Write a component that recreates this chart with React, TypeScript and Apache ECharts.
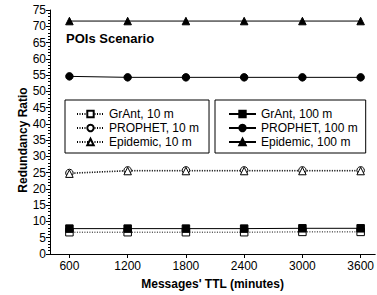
import React, { useEffect, useRef } from "react";
import * as echarts from "echarts";

const ttl = [600, 1200, 1800, 2400, 3000, 3600];
const grant10 = [6.7, 6.7, 6.7, 6.7, 6.8, 6.8];
const prophet10 = [24.9, 25.7, 25.7, 25.7, 25.7, 25.7];
const epidemic10 = [24.7, 25.5, 25.5, 25.5, 25.5, 25.5];
const grant100 = [7.8, 7.8, 7.8, 7.8, 7.9, 7.9];
const prophet100 = [54.6, 54.3, 54.3, 54.3, 54.3, 54.3];
const epidemic100 = [71.6, 71.6, 71.6, 71.6, 71.6, 71.6];
const yTicks = [0, 75, 5];
const legend10 = ["GrAnt, 10 m", "PROPHET, 10 m", "Epidemic, 10 m"];
const legend100 = ["GrAnt, 100 m", "PROPHET, 100 m", "Epidemic, 100 m"];

const FONT = "Liberation Sans, Arial, sans-serif";

export default function App() {
  const ref = useRef<HTMLDivElement>(null);
  useEffect(() => {
    if (!ref.current) return;
    const chart = echarts.init(ref.current, undefined, { renderer: "svg" });
    const mk = (name: string, data: number[], symbol: string, dotted: boolean) => ({
      name,
      type: "line",
      data: data.map((v, i) => [ttl[i], v]),
      symbol,
      symbolSize: 7.5,
      z: dotted ? 2 : 3,
      itemStyle: { color: dotted ? "#fff" : "#000", borderColor: "#000", borderWidth: 1 },
      lineStyle: { color: "#000", width: 1, type: dotted ? [1, 1.5] : "solid" },
      emphasis: { disabled: true },
    });
    const legendBase = {
      orient: "vertical",
      top: 100,
      itemWidth: 27,
      itemHeight: 8,
      itemGap: 2,
      borderColor: "#000",
      borderWidth: 1,
      borderRadius: 0,
      textStyle: { fontFamily: FONT, fontSize: 12, color: "#000", lineHeight: 12 },
      selectedMode: false,
    };
    chart.setOption({
      animation: false,
      backgroundColor: "#fff",
      textStyle: { fontFamily: FONT },
      title: {
        text: "POIs Scenario",
        left: 61,
        top: 27,
        textStyle: { fontFamily: FONT, fontSize: 13, fontWeight: "bold", color: "#000" },
      },
      legend: [
        {
          ...legendBase,
          left: 65,
          padding: [8, 10, 5, 11],
          data: legend10,
        },
        {
          ...legendBase,
          left: 215,
          padding: [8, 8, 5, 13],
          data: legend100,
        },
      ],
      graphic: [
        {
          type: "text",
          x: 23,
          y: 140,
          rotation: Math.PI / 2,
          style: {
            text: "Redundancy Ratio",
            fontFamily: FONT,
            fontSize: 12,
            fontWeight: "bold",
            fill: "#000",
            align: "center",
            verticalAlign: "middle",
          },
        },
      ],
      grid: { left: 50, right: 1, top: 10, bottom: 40, containLabel: false },
      xAxis: {
        type: "value",
        min: 400,
        max: 3750,
        name: "Messages' TTL (minutes)",
        nameLocation: "middle",
        nameGap: 24,
        nameTextStyle: { fontFamily: FONT, fontSize: 12, fontWeight: "bold", color: "#000" },
        axisLine: { lineStyle: { color: "#000", width: 1 } },
        axisTick: { show: true, length: 4, customValues: ttl, lineStyle: { color: "#000" } },
        axisLabel: {
          customValues: ttl,
          fontSize: 12,
          color: "#000",
          margin: 6,
          fontFamily: FONT,
          formatter: (v: number) => String(v),
        },
        splitLine: { show: false },
      },
      yAxis: {
        type: "value",
        min: yTicks[0],
        max: yTicks[1],
        interval: yTicks[2],
        axisLine: { show: true, lineStyle: { color: "#000", width: 1 } },
        axisTick: { show: true, length: 4, lineStyle: { color: "#000" } },
        minorTick: { show: true, splitNumber: 5, length: 2, lineStyle: { color: "#000" } },
        axisLabel: { fontSize: 12, color: "#000", margin: 4, fontFamily: FONT },
        splitLine: { show: false },
        minorSplitLine: { show: false },
      },
      series: [
        mk("GrAnt, 10 m", grant10, "rect", true),
        mk("PROPHET, 10 m", prophet10, "circle", true),
        mk("Epidemic, 10 m", epidemic10, "triangle", true),
        mk("GrAnt, 100 m", grant100, "rect", false),
        mk("PROPHET, 100 m", prophet100, "circle", false),
        mk("Epidemic, 100 m", epidemic100, "triangle", false),
      ],
    });
    return () => chart.dispose();
  }, []);
  return <div ref={ref} style={{ width: 377, height: 295, position: "absolute", left: 0, top: 0 }} />;
}
